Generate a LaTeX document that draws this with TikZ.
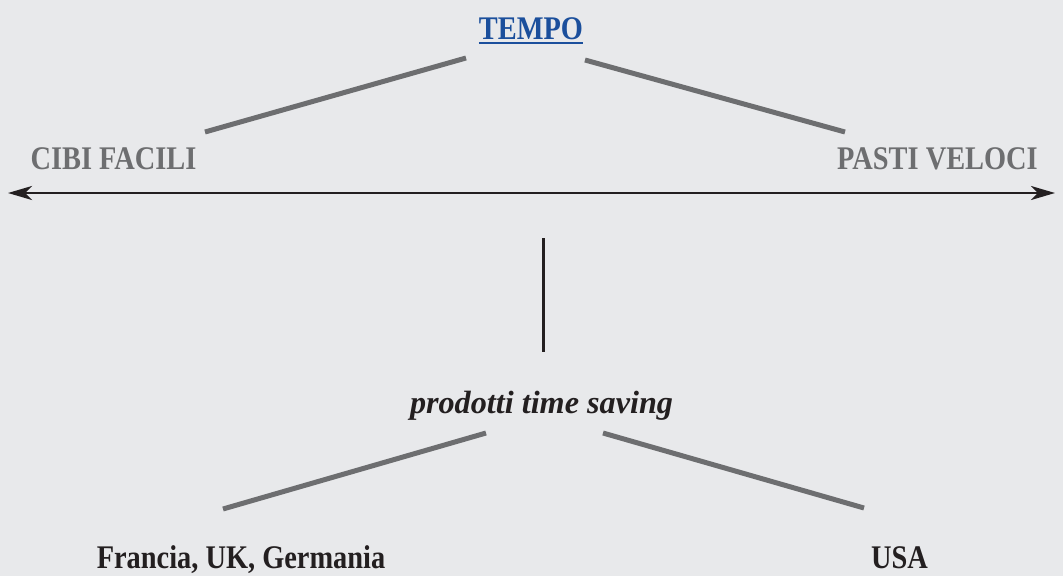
\documentclass[tikz,border=0pt]{standalone}
\usepackage{fontspec}
\setmainfont{Liberation Serif}
\newfontfamily\condfont{Liberation Serif}[FakeStretch=0.86]
\usetikzlibrary{arrows.meta}
\definecolor{bg}{HTML}{E8E9EB}
\definecolor{greytxt}{HTML}{6D6E70}
\definecolor{darktxt}{HTML}{231F20}
\definecolor{bluetxt}{HTML}{1B4F9C}
\tikzset{
  lbl/.style={inner sep=0pt, anchor=base, font=\condfont\bfseries\fontsize{33}{36}\selectfont},
  greylbl/.style={lbl, text=greytxt},
  darklbl/.style={lbl, text=darktxt},
  bar/.style={line width=5pt, draw=greytxt},
  thin/.style={line width=2.2pt, draw=darktxt},
}
\begin{document}
\begin{tikzpicture}[x=1pt,y=-1pt]
\useasboundingbox (0,0) rectangle (1063,576);
\fill[bg] (0,0) rectangle (1063,576);
% texts
\node[lbl, text=bluetxt] (tempo) at (531,39) {TEMPO};
\draw[line width=2pt, bluetxt] ([yshift=-4pt]tempo.base west) -- ([yshift=-4pt]tempo.base east);
\node[greylbl] (cibi) at (113.5,169) {CIBI FACILI};
\node[greylbl] (pasti) at (937.5,169) {PASTI VELOCI};
\node[inner sep=0pt, anchor=base, text=darktxt, font=\bfseries\itshape\fontsize{32.2}{36}\selectfont] (prod) at (541.5,413) {prodotti time saving};
\node[darklbl] (fra) at (241,568) {Francia, UK, Germania};
\node[darklbl] (usa) at (899.5,568) {USA};
% connector end points
\coordinate (t1) at (466,58);
\coordinate (t2) at (205,132);
\coordinate (t3) at (585,60);
\coordinate (t4) at (845,132);
\coordinate (p1) at (486,433);
\coordinate (p2) at (223,509);
\coordinate (p3) at (603,433);
\coordinate (p4) at (864,508);
\coordinate (aL) at (8,193);
\coordinate (aR) at (1055,193);
\coordinate (v1) at (543.5,238);
\coordinate (v2) at (543.5,352);
% lines
\draw[bar] (t1) -- (t2);
\draw[bar] (t3) -- (t4);
\draw[bar] (p1) -- (p2);
\draw[bar] (p3) -- (p4);
\draw[line width=2.8pt, draw=darktxt, {Stealth[length=24pt,width=14pt,inset=7pt]}-{Stealth[length=24pt,width=14pt,inset=7pt]}] (aL) -- (aR);
\draw[thin] (v1) -- (v2);
\end{tikzpicture}
\end{document}
